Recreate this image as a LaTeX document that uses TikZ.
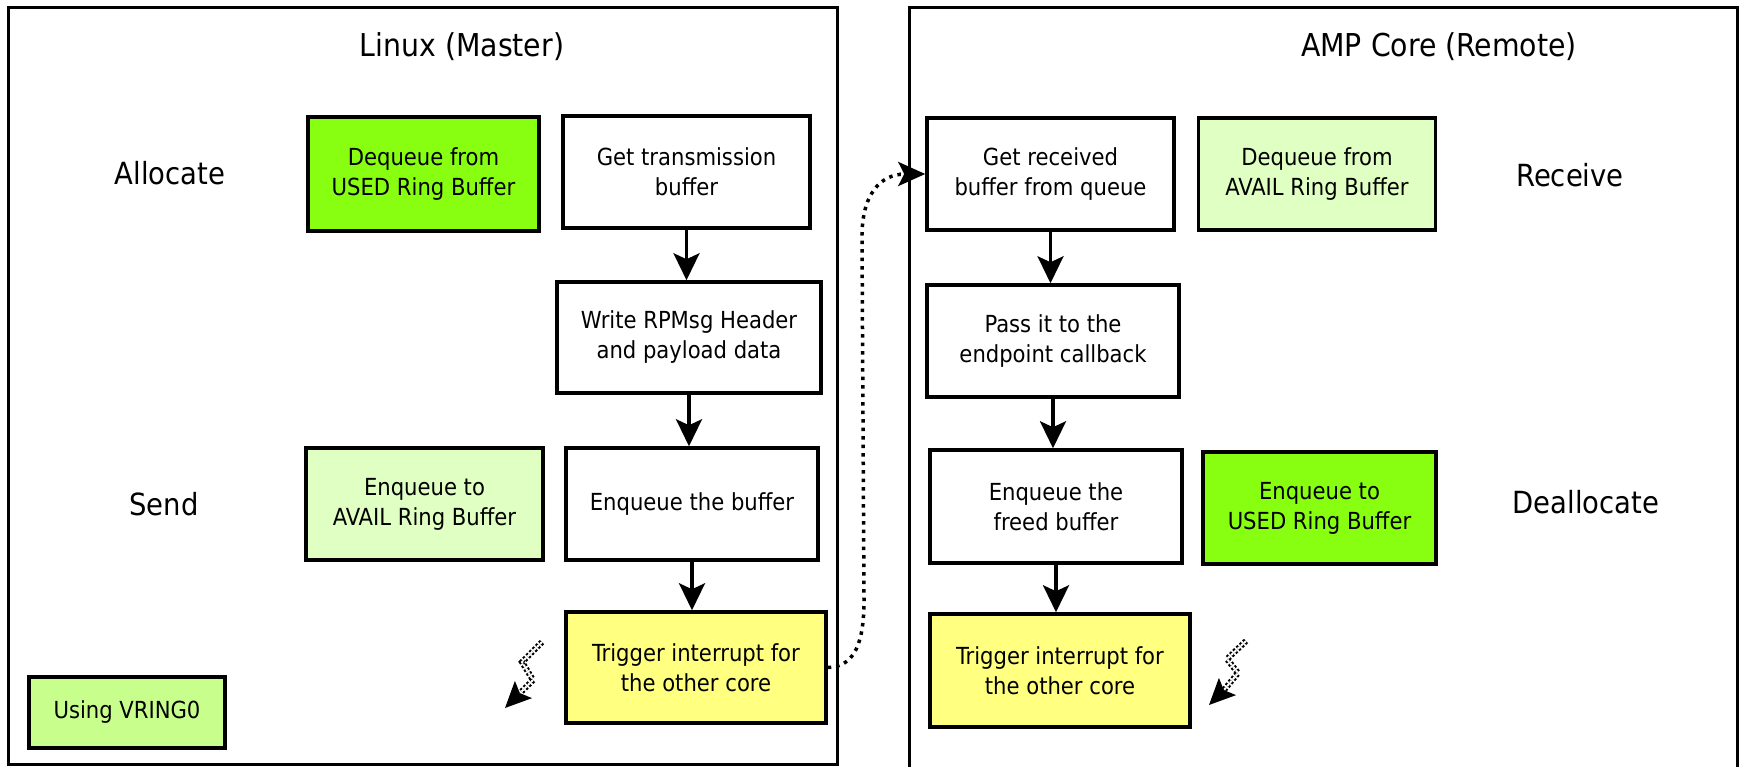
\documentclass[tikz,border=0pt]{standalone}
\usepackage{fontspec}
\setmainfont{DejaVu Sans Condensed}
\usetikzlibrary{arrows.meta}
\definecolor{brightgreen}{HTML}{88FF11}
\definecolor{palegreen}{HTML}{E0FFC2}
\definecolor{midgreen}{HTML}{C8FF8C}
\definecolor{softyellow}{HTML}{FFFF80}
\begin{document}
\begin{tikzpicture}[x=1pt,y=-1pt,
  box/.style={draw=black, line width=3.5pt, rectangle, align=center,
    font=\fontsize{23.5}{30}\selectfont, inner sep=0pt},
  lbl/.style={font=\fontsize{30.5}{36}\selectfont, inner sep=0pt},
  ttl/.style={font=\fontsize{31.5}{37}\selectfont, inner sep=0pt},
  frame/.style={draw=black, line width=3pt},
  flow/.style={line width=3.3pt, -{Stealth[length=27pt,width=26pt,inset=6pt]}},
  dotlink/.style={line width=3.5pt, dash pattern=on 3.5pt off 5pt,
    -{Stealth[length=27pt,width=24pt,inset=6pt]}},
  zig/.style={line width=2pt, double=white, double distance=2pt,
    dash pattern=on 2.5pt off 2pt},
  zighead/.style={line width=2pt, -{Stealth[length=26pt,width=24pt,inset=5pt]}}
]
\useasboundingbox (0,0) rectangle (1740,766);
\fill[white] (0,0) rectangle (1740,766);

% frames
\draw[frame] (8,7) rectangle (837,764);
\draw[frame] (909,790) -- (909,7) -- (1737,7) -- (1737,790);

% titles and labels
\node[ttl] (tl) at (462,47) {Linux (Master)};
\node[ttl] (tr) at (1439,47) {AMP Core (Remote)};
\node[lbl] (lalloc) at (170,173) {Allocate};
\node[lbl] (lsend) at (164,504) {Send};
\node[lbl] (lrecv) at (1570,175) {Receive};
\node[lbl] (ldealloc) at (1586,502) {Deallocate};

% left boxes
\node[box, fill=brightgreen, minimum width=231pt, minimum height=114pt] (dqU) at (423.5,174) {Dequeue from\\USED Ring Buffer};
\node[box, fill=white, minimum width=247pt, minimum height=112pt] (getTx) at (686.5,172) {Get transmission\\buffer};
\node[box, fill=white, minimum width=264pt, minimum height=111pt] (writeH) at (689,337.5) {Write RPMsg Header\\and payload data};
\node[box, fill=palegreen, minimum width=237pt, minimum height=112pt] (enqA) at (424.5,504) {Enqueue to\\AVAIL Ring Buffer};
\node[box, fill=white, minimum width=252pt, minimum height=112pt] (enqB) at (692,504) {Enqueue the buffer};
\node[box, fill=softyellow, minimum width=260pt, minimum height=111pt] (trigL) at (696,667.5) {Trigger interrupt for\\the other core};
\node[box, fill=midgreen, minimum width=196pt, minimum height=71pt] (vring) at (127,712.5) {Using VRING0};

% right boxes
\node[box, fill=white, minimum width=247pt, minimum height=112pt] (getRx) at (1050.5,174) {Get received\\buffer from queue};
\node[box, fill=palegreen, minimum width=237pt, minimum height=112pt] (dqA) at (1317,174) {Dequeue from\\AVAIL Ring Buffer};
\node[box, fill=white, minimum width=252pt, minimum height=112pt] (pass) at (1053,341) {Pass it to the\\endpoint callback};
\node[box, fill=white, minimum width=252pt, minimum height=113pt] (enqF) at (1056,506.5) {Enqueue the\\freed buffer};
\node[box, fill=brightgreen, minimum width=233pt, minimum height=112pt] (enqU) at (1319.5,508) {Enqueue to\\USED Ring Buffer};
\node[box, fill=softyellow, minimum width=260pt, minimum height=113pt] (trigR) at (1060,670.5) {Trigger interrupt for\\the other core};

% flow arrows
\draw[flow] (getTx.south) -- (getTx.south |- writeH.north);
\draw[flow] (writeH.south) -- (writeH.south |- enqB.north);
\draw[flow] (enqB.south) -- (enqB.south |- trigL.north);
\draw[flow] (getRx.south) -- (getRx.south |- pass.north);
\draw[flow] (pass.south) -- (pass.south |- enqF.north);
\draw[flow] (enqF.south) -- (enqF.south |- trigR.north);

% dotted interrupt link
\coordinate (c1) at (864,600);
\coordinate (c2) at (862,240);
\draw[dotlink] (trigL.east) .. controls (856,667) and (864,640) .. (c1)
  -- (c2) .. controls (861,195) and (880,174) .. (getRx.west);

% lightning arrows
\coordinate (la) at (542,642);
\coordinate (lb) at (522,662);
\coordinate (lc) at (533,680);
\coordinate (ld) at (519,694);
\coordinate (le) at (505,708);
\draw[zig] (la) -- (lb) -- (lc) -- (ld);
\draw[zighead] (ld) -- (le);

\coordinate (ra) at (1246,641);
\coordinate (rb) at (1227,659);
\coordinate (rc) at (1238,673);
\coordinate (rd) at (1224,690);
\coordinate (re) at (1209,705);
\draw[zig] (ra) -- (rb) -- (rc) -- (rd);
\draw[zighead] (rd) -- (re);
\end{tikzpicture}
\end{document}
